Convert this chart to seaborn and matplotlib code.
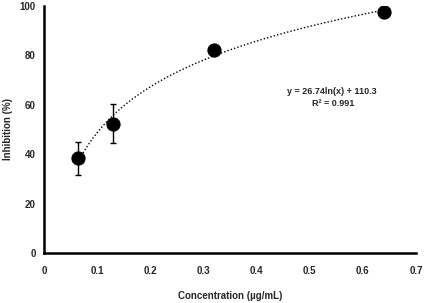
import numpy as np
import pandas as pd
import matplotlib
matplotlib.use("Agg")
import matplotlib.pyplot as plt
import seaborn as sns

conc = [0.064, 0.13, 0.32, 0.64]
inhib = [38.3, 52.4, 82.2, 97.6]
err = [6.6, 8.0, 1.2, 1.2]
fit_a = 26.74
fit_b = 110.3
x_ticks = [0, 0.1, 0.2, 0.3, 0.4, 0.5, 0.6, 0.7]
y_ticks = [0, 20, 40, 60, 80, 100]

sns.set_theme(style="white")
plt.rcParams['font.family'] = ['Liberation Sans', 'DejaVu Sans']

fig = plt.figure(figsize=(4.25, 3.03), dpi=100)
ax = fig.add_axes([44/425, 1-253/303, 372/425, 247/303])

df = pd.DataFrame({"x": conc, "y": inhib})
xf = np.linspace(min(conc), max(conc), 200)
fit_df = pd.DataFrame({"x": xf, "y": fit_a*np.log(xf) + fit_b})
sns.lineplot(data=fit_df, x="x", y="y", ax=ax, color="black", lw=1.0,
             linestyle=(0, (1, 1.5)))
ax.errorbar(conc, inhib, yerr=err, fmt="none", ecolor="black", elinewidth=1.0,
            capsize=2.5, capthick=1.0, zorder=3)
sns.scatterplot(data=df, x="x", y="y", ax=ax, color="black", s=90,
                edgecolor="black", zorder=4)

ax.set_xlim(0, 0.7)
ax.set_ylim(0, 100)
ax.set_xticks(x_ticks)
ax.set_xticklabels(["0"] + [f"{t:.1f}" for t in x_ticks[1:]], fontweight="bold", fontsize=7)
ax.set_yticks(y_ticks)
ax.set_yticklabels([str(t) for t in y_ticks], fontweight="bold", fontsize=7)
for s in ["top", "right"]:
    ax.spines[s].set_visible(False)
for s in ["left", "bottom"]:
    ax.spines[s].set_color("black")
    ax.spines[s].set_linewidth(1.8)
ax.tick_params(axis="y", direction="out", length=3, width=1.2, color="black", pad=3)
ax.tick_params(axis="x", direction="inout", length=4, width=1.2, color="black", pad=7)
ax.set_xlabel("Concentration (µg/mL)", fontweight="bold", fontsize=7, labelpad=11)
ax.set_ylabel("Inhibition (%)", fontweight="bold", fontsize=7)
ax.yaxis.set_label_coords(-0.083, 0.5)
ax.text(0.541, 65.5, "y = 26.74ln(x) + 110.3", fontsize=6.5, fontweight="bold", ha="center", va="center")
ax.text(0.545, 60.5, "R² = 0.991", fontsize=6.5, fontweight="bold", ha="center", va="center")

fig.savefig("out.png", dpi=100)
